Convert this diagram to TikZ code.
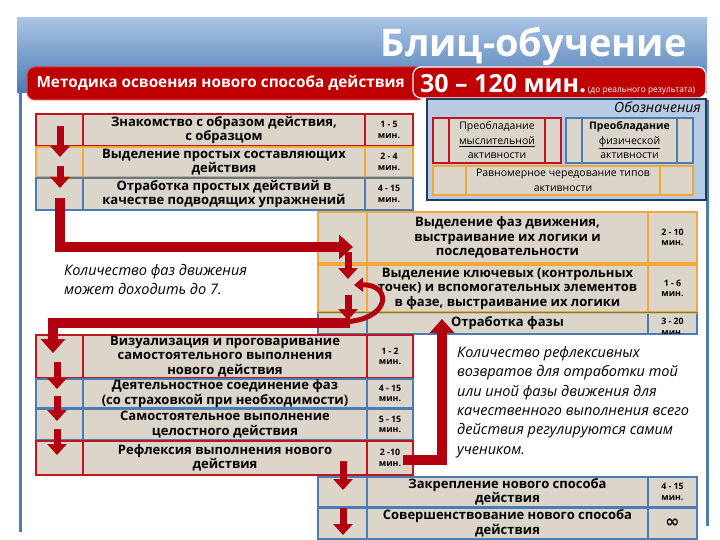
\documentclass[tikz,border=0pt]{standalone}
\usepackage{fontspec}
\setmainfont{Open Sans}
\newfontfamily\symf{DejaVu Sans}
\usetikzlibrary{arrows.meta,calc}
\definecolor{hdrred}{HTML}{C00000}
\definecolor{arr}{HTML}{B3000F}
\definecolor{rred}{HTML}{C0141E}
\definecolor{rorange}{HTML}{F5A83A}
\definecolor{rblue}{HTML}{4A7DB5}
\definecolor{texfill}{HTML}{DCD5CA}
\definecolor{legfill}{HTML}{B7CBE3}
\definecolor{legline}{HTML}{1F3A63}
\definecolor{bandtop}{HTML}{A9C4E4}
\definecolor{bandbot}{HTML}{4A7AB5}
\newcommand{\rowf}{\bfseries\fontsize{13}{14.5}\selectfont}
\newcommand{\timef}{\bfseries\fontsize{8.8}{10.5}\selectfont}
\newcommand{\legf}{\fontsize{10.5}{14.5}\selectfont}
\newcommand{\itf}{\itshape\fontsize{14.5}{19.4}\selectfont}
\tikzset{
  cell/.style={draw, fill=texfill, line width=1.5pt, inner sep=0pt, align=center},
  tcell/.style={cell, font=\timef},
  bcell/.style={cell, font=\rowf},
  downarr/.style={draw=arr, line width=7pt, -{Triangle[width=19pt,length=11pt]}},
  bigarr/.style={draw=arr, line width=9.5pt, -{Triangle[width=24pt,length=14pt]}},
  curvearr/.style={draw=arr, line width=5pt, -{Triangle[width=14pt,length=9pt]}},
  redbox/.style={fill=hdrred, rounded corners=8pt, inner sep=0pt, text=white}
}
\begin{document}
\begin{tikzpicture}[x=1pt,y=-1pt]
\useasboundingbox (0,0) rectangle (720,540);
\fill[white] (0,0) rectangle (720,540);
% header band
\shade[top color=bandtop, bottom color=bandbot] (17,18) rectangle (707,93);
\draw[rblue, line width=3pt] (20,88) -- (20,532);
\draw[rblue, line width=3pt] (707,100) -- (707,526);
\node[anchor=base east, text=white, font=\bfseries\fontsize{38}{40}\selectfont] (title) at (690,57) {Блиц-обучение};
% red header boxes
\node[redbox, draw=hdrred!70!white, line width=1pt, minimum width=398pt, minimum height=33pt] (method) at (226,83.5) {};
\node[anchor=west, text=white, font=\bfseries\fontsize{15.3}{17}\selectfont] (methodtxt) at (33,83) {Методика освоения нового способа действия};
\node[redbox, draw=white, line width=1.2pt, minimum width=293pt, minimum height=31pt] (time) at (559.5,82.5) {};
\node[anchor=west, text=white, inner sep=0pt] (timetxt) at (420,84) {{\bfseries\fontsize{25}{26}\selectfont 30 – 120 мин.}\,{\fontsize{8.4}{9}\selectfont (до реального результата)}};
% legend
\node[draw=legline, line width=2pt, fill=legfill, minimum width=279pt, minimum height=101pt, inner sep=0pt] (legend) at (566.5,149.5) {};
\node[anchor=base east, font=\itshape\fontsize{14}{15}\selectfont, inner sep=0pt] (legtitle) at (701,113) {Обозначения};
\node[cell, draw=rred, minimum width=16pt, minimum height=45pt] (lr1) at (441,140.5) {};
\node[cell, draw=rred, minimum width=96pt, minimum height=45pt, font=\legf] (lr2) at (497,140.5) {Преобладание\\\underline{мыслительной}\\активности};
\node[cell, draw=rred, minimum width=16pt, minimum height=45pt] (lr3) at (553,140.5) {};
\node[cell, draw=rblue, minimum width=16pt, minimum height=45pt] (lb1) at (574,140.5) {};
\node[cell, draw=rblue, minimum width=95pt, minimum height=45pt, font=\legf] (lb2) at (629.5,140.5) {\textbf{Преобладание}\\\underline{физической}\\активности};
\node[cell, draw=rblue, minimum width=16pt, minimum height=45pt] (lb3) at (685,140.5) {};
\node[cell, draw=rorange, minimum width=33pt, minimum height=29pt] (lo1) at (449.5,180.5) {};
\node[cell, draw=rorange, minimum width=194pt, minimum height=29pt, font=\legf] (lo2) at (563,180.5) {Равномерное чередование типов\\активности};
\node[cell, draw=rorange, minimum width=33pt, minimum height=29pt] (lo3) at (676.5,180.5) {};
% top table
\node[cell, draw=rred, minimum width=47pt, minimum height=32pt] (t1a) at (59.5,130) {};
\node[bcell, draw=rred, minimum width=282pt, minimum height=32pt] (t1b) at (224,130) {Знакомство с образом действия,\\с образцом};
\node[tcell, draw=rred, minimum width=48pt, minimum height=32pt] (t1c) at (389,130) {1 - 5\\мин.};
\node[cell, draw=rorange, minimum width=47pt, minimum height=30pt] (t2a) at (59.5,162) {};
\node[bcell, draw=rorange, minimum width=282pt, minimum height=30pt] (t2b) at (224,162) {Выделение простых составляющих\\действия};
\node[tcell, draw=rorange, minimum width=48pt, minimum height=30pt] (t2c) at (389,162) {2 - 4\\мин.};
\node[cell, draw=rblue, minimum width=47pt, minimum height=32pt] (t3a) at (59.5,194) {};
\node[bcell, draw=rblue, minimum width=282pt, minimum height=32pt] (t3b) at (224,194) {Отработка простых действий  в\\качестве подводящих упражнений};
\node[tcell, draw=rblue, minimum width=48pt, minimum height=32pt] (t3c) at (389,194) {4 - 15\\мин.};
% middle table
\node[cell, draw=rorange, minimum width=49pt, minimum height=51pt] (m1a) at (342.5,237.5) {};
\node[bcell, draw=rorange, minimum width=281pt, minimum height=51pt] (m1b) at (507.5,237.5) {Выделение фаз движения,\\выстраивание их логики и\\последовательности};
\node[tcell, draw=rorange, minimum width=49pt, minimum height=51pt] (m1c) at (672.5,237.5) {2 - 10\\мин.};
\node[cell, draw=rorange, minimum width=49pt, minimum height=47pt] (m2a) at (342.5,288.5) {};
\node[bcell, draw=rorange, minimum width=281pt, minimum height=47pt] (m2b) at (507.5,288.5) {Выделение ключевых (контрольных\\точек) и вспомогательных элементов\\в фазе, выстраивание их логики};
\node[tcell, draw=rorange, minimum width=49pt, minimum height=47pt] (m2c) at (672.5,288.5) {1 - 6\\мин.};
\node[cell, draw=rblue, minimum width=49pt, minimum height=21pt] (m3a) at (342.5,323.5) {};
\node[bcell, draw=rblue, minimum width=281pt, minimum height=21pt] (m3b) at (507.5,323.5) {Отработка фазы};
\node[cell, draw=rblue, minimum width=49pt, minimum height=21pt] (m3c) at (672.5,323.5) {};
\begin{scope}
\clip (649,314) rectangle (696,333);
\node[font=\timef, align=center, inner sep=0pt] (m3t) at (672.5,327) {3 - 20\\мин.};
\end{scope}
\draw[rorange!70!yellow, line width=1pt] (318,313) -- (697,313);
% lower table
\node[cell, draw=rred, minimum width=47pt, minimum height=43pt] (l1a) at (59.5,356.5) {};
\node[bcell, draw=rred, minimum width=284pt, minimum height=43pt] (l1b) at (225,356.5) {Визуализация  и проговаривание\\самостоятельного выполнения\\нового действия};
\node[tcell, draw=rred, minimum width=46pt, minimum height=43pt] (l1c) at (390,356.5) {1 - 2\\мин.};
\node[cell, draw=rblue, minimum width=47pt, minimum height=29pt] (l2a) at (59.5,393.5) {};
\node[bcell, draw=rblue, minimum width=284pt, minimum height=29pt] (l2b) at (225,393.5) {Деятельностное соединение фаз\\(со страховкой при необходимости)};
\node[tcell, draw=rblue, minimum width=46pt, minimum height=29pt] (l2c) at (390,393.5) {4 - 15\\мин.};
\node[cell, draw=rblue, minimum width=47pt, minimum height=31pt] (l3a) at (59.5,424.5) {};
\node[bcell, draw=rblue, minimum width=284pt, minimum height=31pt] (l3b) at (225,424.5) {Самостоятельное выполнение\\целостного действия};
\node[tcell, draw=rblue, minimum width=46pt, minimum height=31pt] (l3c) at (390,424.5) {5 - 15\\мин.};
\node[cell, draw=rred, minimum width=47pt, minimum height=34pt] (l4a) at (59.5,458) {};
\node[bcell, draw=rred, minimum width=284pt, minimum height=34pt] (l4b) at (225,458) {Рефлексия выполнения нового\\действия};
\node[tcell, draw=rred, minimum width=46pt, minimum height=34pt] (l4c) at (390,458) {2 -10\\мин.};
% bottom right table
\node[cell, draw=rblue, minimum width=49pt, minimum height=30pt] (b1a) at (342.5,492) {};
\node[bcell, draw=rblue, minimum width=281pt, minimum height=30pt] (b1b) at (507.5,492) {Закрепление нового способа\\действия};
\node[tcell, draw=rblue, minimum width=49pt, minimum height=30pt] (b1c) at (672.5,492) {4 - 15\\мин.};
\node[cell, draw=rblue, minimum width=49pt, minimum height=31pt, font=\symf\bfseries\fontsize{17}{17}\selectfont] (b2c) at (672.5,523.5) {∞};
\node[cell, draw=rblue, minimum width=49pt, minimum height=31pt] (b2a) at (342.5,523.5) {};
\node[bcell, draw=rblue, minimum width=281pt, minimum height=31pt] (b2b) at (507.5,523.5) {Совершенствование нового способа\\действия};
% italic notes
\node[anchor=north west, font=\itf, align=left, inner sep=0pt] (note1) at (64,264) {Количество фаз движения\\может доходить до 7.};
\node[anchor=north west, font=\itf, align=left, inner sep=0pt] (note2) at (457,346) {Количество рефлексивных\\возвратов для отработки той\\или иной фазы движения для\\качественного выполнения всего\\действия  регулируются самим\\учеником.};
% arrows
\coordinate (a1s) at (60,126); \coordinate (a1e) at (60,157);
\coordinate (a2s) at (60,166); \coordinate (a2e) at (60,188);
\draw[downarr] (a1s) -- (a1e);
\draw[downarr] (a2s) -- (a2e);
\coordinate (c1) at (60,198); \coordinate (c2) at (60,247); \coordinate (c3) at (353,247);
\draw[bigarr] (c1) -- (c2) -- (c3);
\coordinate (m1s) at (348,252); \coordinate (m1e) at (348,279);
\draw[downarr] (m1s) -- (m1e);
\coordinate (m2s) at (348,295); \coordinate (m2e) at (348,320);
\draw[downarr] (m2s) -- (m2e);
\coordinate (cv1) at (343,322); \coordinate (cv2) at (354,285);
\draw[curvearr] (cv1) .. controls (392,320) and (392,284) .. (cv2);
\coordinate (d1) at (350,323); \coordinate (d2) at (53,323); \coordinate (d3) at (53,353);
\draw[bigarr] (d1) -- (d2) -- (d3);
\coordinate (k1s) at (57,362); \coordinate (k1e) at (57,389);
\coordinate (k2s) at (57,396); \coordinate (k2e) at (57,421);
\coordinate (k3s) at (57,429); \coordinate (k3e) at (57,455);
\draw[downarr] (k1s) -- (k1e);
\draw[downarr] (k2s) -- (k2e);
\draw[downarr] (k3s) -- (k3e);
\coordinate (e1) at (403,460); \coordinate (e2) at (442,460); \coordinate (e3) at (442,319);
\draw[bigarr] (e1) -- (e2) -- (e3);
\coordinate (n1s) at (343,461); \coordinate (n1e) at (343,490);
\coordinate (n2s) at (343,508); \coordinate (n2e) at (343,535);
\draw[downarr] (n1s) -- (n1e);
\draw[downarr] (n2s) -- (n2e);
\end{tikzpicture}
\end{document}
